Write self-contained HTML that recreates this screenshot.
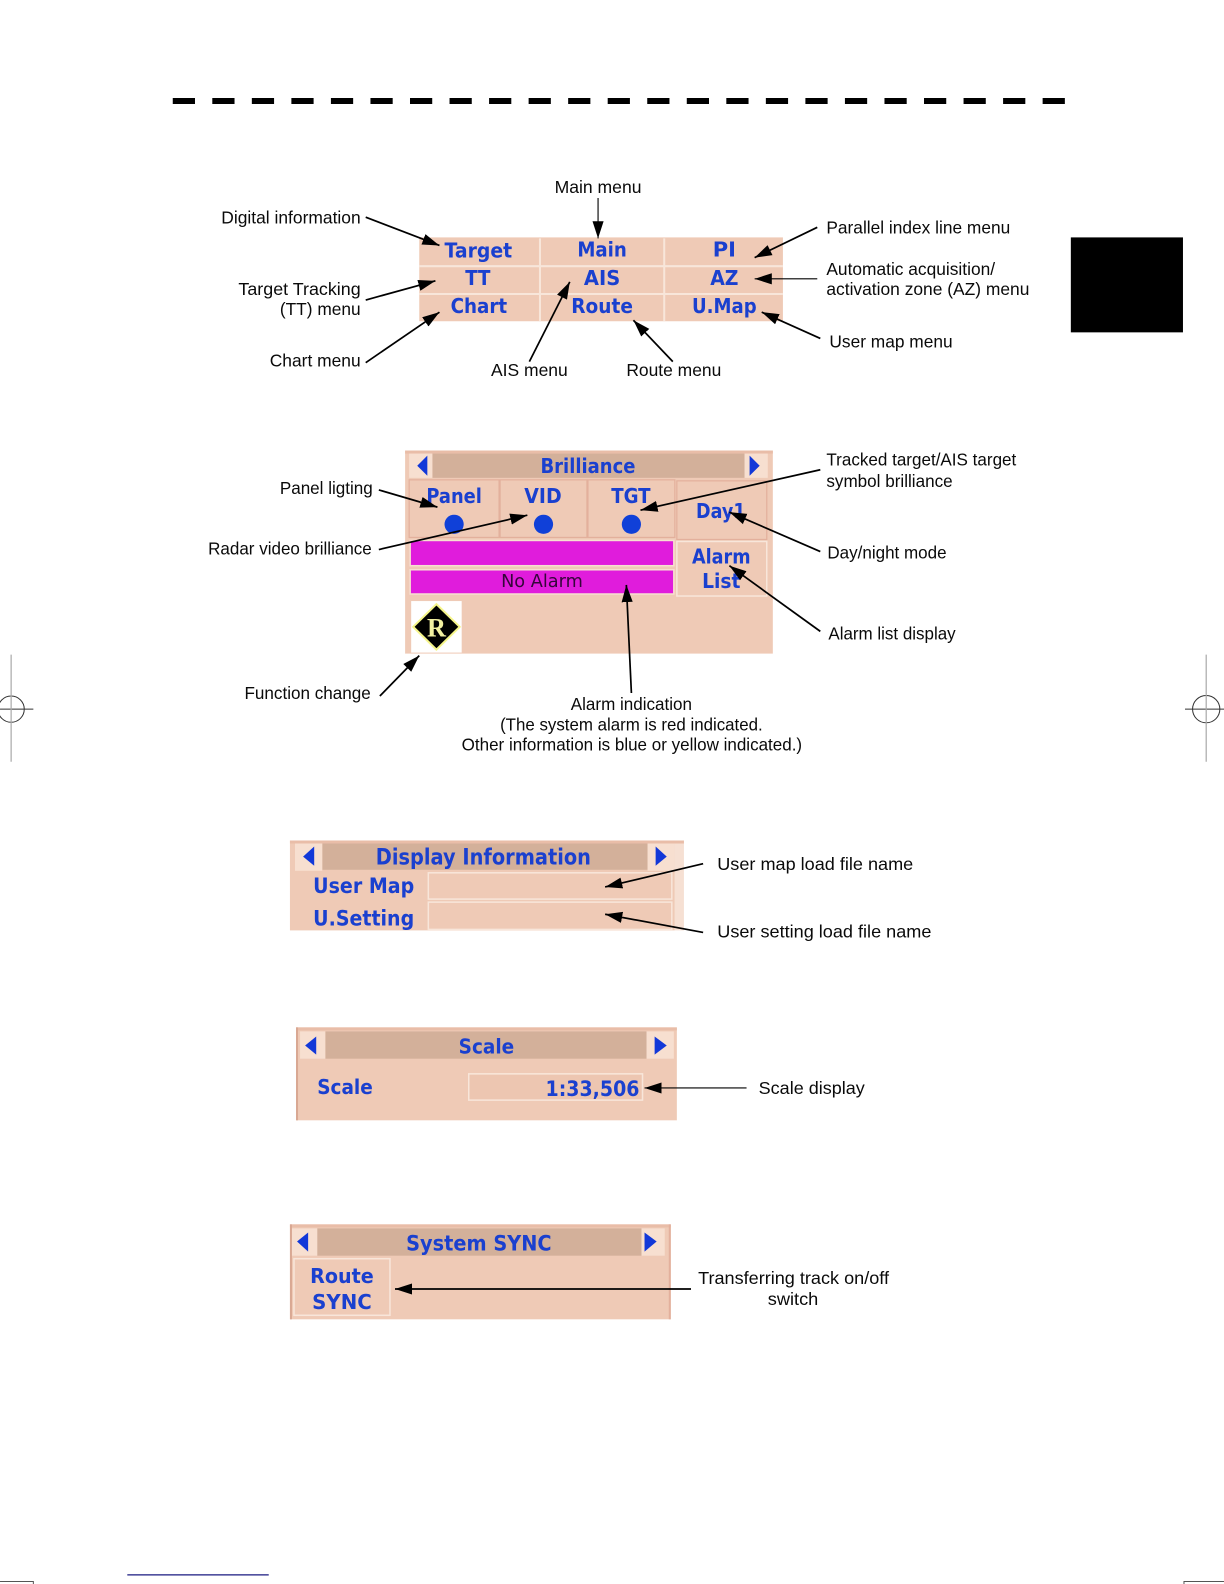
<!DOCTYPE html>
<html><head><meta charset="utf-8"><style>
html,body{margin:0;padding:0;background:#fff;width:1224px;height:1584px;overflow:hidden}
svg{display:block}
.l{font-family:"Liberation Sans",sans-serif;font-size:17px;fill:#0a0a0a}
.b{font-family:"DejaVu Sans",sans-serif;font-weight:bold;font-size:20px;fill:#1a40cf}
.n{font-family:"DejaVu Sans",sans-serif;font-size:18px;fill:#35063a}
.a{stroke:#000;stroke-width:1.7;marker-end:url(#ah)}
.t{stroke:#000;stroke-width:1.1;marker-end:url(#ah)}
.p{fill:#efcab6}.tb{fill:#d3b09a}.d{stroke:#f8e6da;stroke-width:2}
.c{fill:none;stroke:#e3b09c;stroke-width:1.2}
.h{fill:#f7dfd0}.ar{fill:#1238d8}
</style></head><body>
<svg width="1224" height="1584" viewBox="0 0 1211.6 1568" xmlns="http://www.w3.org/2000/svg">
<defs><marker id="ah" markerUnits="userSpaceOnUse" markerWidth="20" markerHeight="14" refX="17" refY="7" orient="auto"><path d="M0,1.500 L17,7 L0,12.500 Z" fill="#000"/></marker></defs>
<rect width="1211.6" height="1568" fill="#fff"/>
<!-- top dashes -->
<path d="M171,100H1055" stroke="#000" stroke-width="6" stroke-dasharray="22 17.14"/>
<rect x="1060" y="235" width="111" height="94" fill="#000"/>
<!-- registration -->
<g fill="none" stroke="#333" stroke-width="1">
<path d="M0,702H33"/><circle cx="11" cy="702" r="13"/>
<path d="M1173,702H1212"/><circle cx="1194" cy="702" r="13.5"/>
<path d="M0,1565.5H33V1568M1172,1568V1565.5H1212" stroke="#555"/>
</g>
<path d="M11,648V754M1194,648V754" stroke="#aaa" stroke-width="1.2"/>
<path d="M126,1559H266" stroke="#1a1a80" stroke-width="1.2"/>

<!-- panel 1 -->
<rect class="p" x="415" y="235" width="360" height="83"/>
<path class="d" d="M534.5,236V318M657.5,236V318M415,263.5H775M415,291H775"/>
<g class="b" text-anchor="middle">
<text x="473.5" y="255" textLength="67" lengthAdjust="spacingAndGlyphs">Target</text>
<text x="596" y="254" textLength="49" lengthAdjust="spacingAndGlyphs">Main</text>
<text x="717" y="254" textLength="23" lengthAdjust="spacingAndGlyphs">PI</text>
<text x="473" y="282" textLength="25" lengthAdjust="spacingAndGlyphs">TT</text>
<text x="596" y="282" textLength="36" lengthAdjust="spacingAndGlyphs">AIS</text>
<text x="717" y="282" textLength="28" lengthAdjust="spacingAndGlyphs">AZ</text>
<text x="474" y="310" textLength="56" lengthAdjust="spacingAndGlyphs">Chart</text>
<text x="596" y="310" textLength="61" lengthAdjust="spacingAndGlyphs">Route</text>
<text x="717" y="310" textLength="64" lengthAdjust="spacingAndGlyphs">U.Map</text>
</g>

<!-- panel 2 -->
<rect class="p" x="401" y="446" width="364" height="201"/>
<rect x="401" y="446" width="364" height="3" fill="#e9bda8"/>
<rect class="tb" x="428" y="449" width="309" height="24"/>
<rect class="h" x="405" y="449" width="23" height="24"/><rect class="h" x="737" y="449" width="23" height="24"/>
<path class="ar" d="M423,451V471L413,461Z M742,451V471L752,461Z"/>
<rect class="c" x="405" y="475" width="89" height="57"/>
<rect class="c" x="495" y="475" width="86" height="57"/>
<rect class="c" x="582" y="475" width="86" height="57"/>
<rect class="c" x="670" y="476" width="89" height="58"/>
<rect x="670" y="536" width="89" height="54" fill="none" stroke="#f8e6da" stroke-width="1.5"/>
<rect x="406" y="535" width="261" height="25" fill="#e01cdc" stroke="#f7dfd0" stroke-width="1.5"/>
<rect x="406" y="564" width="261" height="24" fill="#e01cdc" stroke="#f7dfd0" stroke-width="1.5"/>
<circle cx="449.500" cy="519" r="9.500" fill="#1040d8"/><circle cx="538" cy="519" r="9.500" fill="#1040d8"/><circle cx="625" cy="519" r="9.500" fill="#1040d8"/>
<rect x="407" y="595" width="50" height="51" fill="#fff"/>
<path d="M432,598L455,620.500L432,643L409,620.500Z" fill="#000" stroke="#f5f58a" stroke-width="2"/>
<text x="432" y="630" text-anchor="middle" font-family="Liberation Serif,serif" font-weight="bold" font-size="26" fill="#f2f0a0">R</text>
<g class="b" text-anchor="middle">
<text x="582" y="468" textLength="94" lengthAdjust="spacingAndGlyphs">Brilliance</text>
<text x="449.500" y="498" textLength="55" lengthAdjust="spacingAndGlyphs">Panel</text>
<text x="537.500" y="498" textLength="37" lengthAdjust="spacingAndGlyphs">VID</text>
<text x="624.500" y="498" textLength="39" lengthAdjust="spacingAndGlyphs">TGT</text>
<text x="713.500" y="513" textLength="49" lengthAdjust="spacingAndGlyphs">Day1</text>
<text x="714" y="558" textLength="58" lengthAdjust="spacingAndGlyphs">Alarm</text>
<text x="714" y="582" textLength="38" lengthAdjust="spacingAndGlyphs">List</text>
</g>
<text class="n" x="536.500" y="581" text-anchor="middle" textLength="81" lengthAdjust="spacingAndGlyphs">No Alarm</text>

<!-- panel 3 -->
<rect class="p" x="287" y="832" width="381" height="89"/>
<rect x="668" y="832" width="9" height="89" fill="#f6e0d3"/>
<rect x="287" y="832" width="390" height="3" fill="#e9bda8"/>
<rect class="tb" x="319" y="835" width="322" height="26"/>
<rect class="h" x="292" y="835" width="27" height="27"/><rect class="h" x="641" y="835" width="27" height="27"/>
<path class="ar" d="M311,838V857L300,848Z M649,838V857L660,848Z"/>
<rect x="424" y="864" width="241" height="26" fill="none" stroke="#f8e6da" stroke-width="1.5"/>
<rect x="424" y="893" width="241" height="27" fill="none" stroke="#f8e6da" stroke-width="1.5"/>
<g class="b">
<text x="372" y="856" textLength="213" lengthAdjust="spacingAndGlyphs" font-size="22">Display Information</text>
<text x="310" y="884" textLength="100" lengthAdjust="spacingAndGlyphs" font-size="21">User Map</text>
<text x="310" y="916" textLength="100" lengthAdjust="spacingAndGlyphs" font-size="21">U.Setting</text>
</g>

<!-- panel 4 -->
<rect class="p" x="293" y="1017" width="377" height="92"/>
<rect x="293" y="1017" width="377" height="3" fill="#e9bda8"/>
<rect x="293" y="1017" width="2" height="92" fill="#d9a893"/>
<rect class="tb" x="322" y="1021" width="318" height="27"/>
<rect class="h" x="297" y="1021" width="25" height="27"/><rect class="h" x="640" y="1021" width="27" height="27"/>
<path class="ar" d="M313,1026V1044L302,1035Z M648,1026V1044L660,1035Z"/>
<rect x="464" y="1063" width="172" height="26" fill="#edc6b1" stroke="#f8e6da" stroke-width="1.5"/>
<g class="b">
<text x="454" y="1043" textLength="55" lengthAdjust="spacingAndGlyphs">Scale</text>
<text x="314" y="1083" textLength="55" lengthAdjust="spacingAndGlyphs">Scale</text>
<text x="540" y="1085" textLength="93" lengthAdjust="spacingAndGlyphs" font-size="21">1:33,506</text>
</g>

<!-- panel 5 -->
<rect class="p" x="287" y="1212" width="377" height="94"/>
<rect x="287" y="1212" width="377" height="3" fill="#e9bda8"/>
<rect x="287" y="1212" width="2" height="94" fill="#d9a893"/><rect x="662" y="1212" width="2" height="94" fill="#e3b09c"/>
<rect class="tb" x="314" y="1216" width="321" height="27"/>
<rect class="h" x="289" y="1216" width="25" height="27"/><rect class="h" x="635" y="1216" width="23" height="27"/>
<path class="ar" d="M305,1220V1239L294,1229Z M638,1220V1239L650,1229Z"/>
<rect x="291" y="1246" width="95" height="56" fill="none" stroke="#f8e6da" stroke-width="1.5"/>
<g class="b" text-anchor="middle">
<text x="474" y="1238" textLength="144" lengthAdjust="spacingAndGlyphs" font-size="21">System SYNC</text>
<text x="338.500" y="1270" textLength="63" lengthAdjust="spacingAndGlyphs">Route</text>
<text x="338.500" y="1296" textLength="59" lengthAdjust="spacingAndGlyphs">SYNC</text>
</g>

<!-- arrows -->
<line class="t" x1="592" y1="196" x2="592" y2="236"/>
<line class="a" x1="362" y1="215" x2="435" y2="243"/>
<line class="a" x1="362" y1="297" x2="431" y2="278"/>
<line class="a" x1="362" y1="359" x2="435" y2="309"/>
<line class="a" x1="524" y1="358" x2="564" y2="279"/>
<line class="a" x1="666" y1="358" x2="627" y2="317"/>
<line class="a" x1="809" y1="225" x2="747" y2="255"/>
<line class="t" x1="809" y1="276" x2="747" y2="276"/>
<line class="a" x1="812" y1="335" x2="754" y2="309"/>
<line class="a" x1="375" y1="485" x2="433" y2="502"/>
<line class="a" x1="375" y1="544" x2="522" y2="510"/>
<line class="a" x1="812" y1="465" x2="634" y2="505"/>
<line class="a" x1="812" y1="546" x2="722" y2="507"/>
<line class="a" x1="812" y1="625" x2="722" y2="560"/>
<line class="a" x1="625" y1="686" x2="620" y2="579"/>
<line class="a" x1="376" y1="689" x2="415" y2="649"/>
<line class="a" x1="696" y1="855" x2="599" y2="878"/>
<line class="a" x1="696" y1="923" x2="599" y2="905"/>
<line class="t" x1="739" y1="1077" x2="638" y2="1077"/>
<line class="a" x1="684" y1="1276" x2="391" y2="1276"/>

<!-- labels -->
<g class="l">
<text x="549" y="191" textLength="86" lengthAdjust="spacingAndGlyphs">Main menu</text>
<text x="219" y="221" textLength="138" lengthAdjust="spacingAndGlyphs">Digital information</text>
<text x="236" y="292" textLength="121" lengthAdjust="spacingAndGlyphs">Target Tracking</text>
<text x="277" y="312" textLength="80" lengthAdjust="spacingAndGlyphs">(TT) menu</text>
<text x="267" y="363" textLength="90" lengthAdjust="spacingAndGlyphs">Chart menu</text>
<text x="486" y="372" textLength="76" lengthAdjust="spacingAndGlyphs">AIS menu</text>
<text x="620" y="372" textLength="94" lengthAdjust="spacingAndGlyphs">Route menu</text>
<text x="818" y="231" textLength="182" lengthAdjust="spacingAndGlyphs">Parallel index line menu</text>
<text x="818" y="272" textLength="167" lengthAdjust="spacingAndGlyphs">Automatic acquisition/</text>
<text x="818" y="292" textLength="201" lengthAdjust="spacingAndGlyphs">activation zone (AZ) menu</text>
<text x="821" y="344" textLength="122" lengthAdjust="spacingAndGlyphs">User map menu</text>
<text x="277" y="489" textLength="92" lengthAdjust="spacingAndGlyphs">Panel ligting</text>
<text x="206" y="549" textLength="162" lengthAdjust="spacingAndGlyphs">Radar video brilliance</text>
<text x="242" y="692" textLength="125" lengthAdjust="spacingAndGlyphs">Function change</text>
<text x="818" y="461" textLength="188" lengthAdjust="spacingAndGlyphs">Tracked target/AIS target</text>
<text x="818" y="482" textLength="125" lengthAdjust="spacingAndGlyphs">symbol brilliance</text>
<text x="819" y="553" textLength="118" lengthAdjust="spacingAndGlyphs">Day/night mode</text>
<text x="820" y="633" textLength="126" lengthAdjust="spacingAndGlyphs">Alarm list display</text>
<text x="565" y="703" textLength="120" lengthAdjust="spacingAndGlyphs">Alarm indication</text>
<text x="495" y="723" textLength="260" lengthAdjust="spacingAndGlyphs">(The system alarm is red indicated.</text>
<text x="457" y="743" textLength="337" lengthAdjust="spacingAndGlyphs">Other information is blue or yellow indicated.)</text>
<text x="710" y="861" textLength="194" lengthAdjust="spacingAndGlyphs">User map load file name</text>
<text x="710" y="928" textLength="212" lengthAdjust="spacingAndGlyphs">User setting load file name</text>
<text x="751" y="1083" textLength="105" lengthAdjust="spacingAndGlyphs">Scale display</text>
<text x="691" y="1271" textLength="189" lengthAdjust="spacingAndGlyphs">Transferring track on/off</text>
<text x="760" y="1292" textLength="50" lengthAdjust="spacingAndGlyphs">switch</text>
</g>
</svg>
</body></html>
